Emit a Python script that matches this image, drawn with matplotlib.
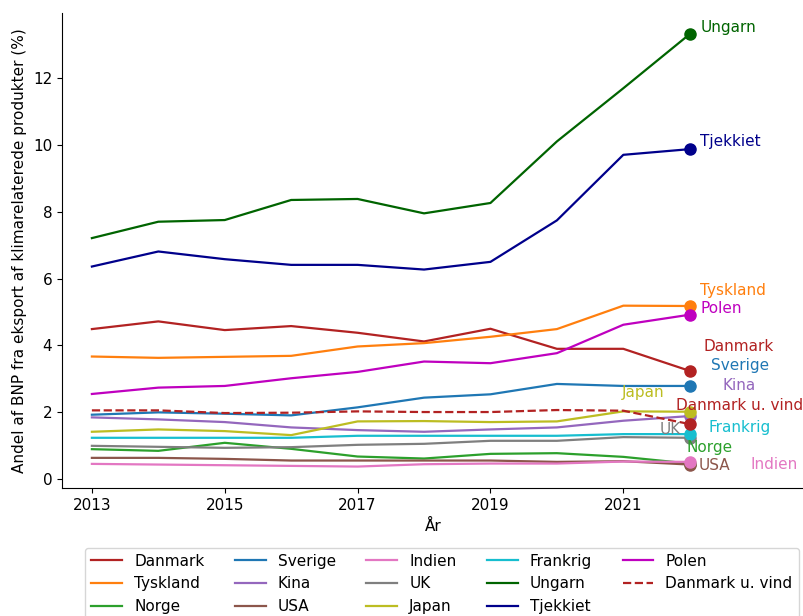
import matplotlib
matplotlib.use("Agg")
import matplotlib.pyplot as plt

plt.rcParams["font.size"] = 11

years = [2013, 2014, 2015, 2016, 2017, 2018, 2019, 2020, 2021, 2022]

# andel af BNP (%) pr. land
danmark = [4.49, 4.72, 4.46, 4.58, 4.38, 4.12, 4.50, 3.90, 3.90, 3.24]
tyskland = [3.67, 3.63, 3.66, 3.69, 3.97, 4.07, 4.26, 4.49, 5.19, 5.18]
norge = [0.90, 0.85, 1.09, 0.91, 0.68, 0.62, 0.76, 0.78, 0.67, 0.47]
sverige = [1.93, 2.00, 1.96, 1.91, 2.15, 2.44, 2.54, 2.85, 2.79, 2.79]
kina = [1.85, 1.79, 1.71, 1.55, 1.47, 1.42, 1.49, 1.55, 1.75, 1.89]
usa = [0.64, 0.64, 0.61, 0.56, 0.56, 0.56, 0.56, 0.52, 0.54, 0.44]
indien = [0.46, 0.44, 0.42, 0.40, 0.38, 0.45, 0.47, 0.47, 0.53, 0.52]
uk = [1.00, 0.97, 0.94, 0.96, 1.03, 1.06, 1.15, 1.15, 1.26, 1.24]
japan = [1.42, 1.49, 1.44, 1.32, 1.73, 1.74, 1.71, 1.73, 2.03, 2.02]
frankrig = [1.24, 1.24, 1.24, 1.24, 1.30, 1.30, 1.30, 1.30, 1.35, 1.35]
ungarn = [7.21, 7.70, 7.75, 8.35, 8.38, 7.95, 8.26, 10.10, 11.69, 13.31]
tjekkiet = [6.36, 6.81, 6.58, 6.41, 6.41, 6.27, 6.50, 7.74, 9.70, 9.87]
polen = [2.55, 2.74, 2.79, 3.02, 3.21, 3.52, 3.47, 3.77, 4.62, 4.92]
danmark_u_vind = [2.06, 2.06, 1.98, 1.99, 2.03, 2.01, 2.01, 2.07, 2.05, 1.65]

series = [
    ("Danmark", danmark, "firebrick", "-"),
    ("Tyskland", tyskland, "tab:orange", "-"),
    ("Norge", norge, "tab:green", "-"),
    ("Sverige", sverige, "tab:blue", "-"),
    ("Kina", kina, "tab:purple", "-"),
    ("USA", usa, "tab:brown", "-"),
    ("Indien", indien, "tab:pink", "-"),
    ("UK", uk, "tab:gray", "-"),
    ("Japan", japan, "tab:olive", "-"),
    ("Frankrig", frankrig, "tab:cyan", "-"),
    ("Ungarn", ungarn, "darkgreen", "-"),
    ("Tjekkiet", tjekkiet, "darkblue", "-"),
    ("Polen", polen, "m", "-"),
    ("Danmark u. vind", danmark_u_vind, "firebrick", "--"),
]

# navnenes placering ved linjernes ende (år, værdi)
label_pos = {
    "Ungarn": (2022.16, 13.52),
    "Tjekkiet": (2022.16, 10.09),
    "Tyskland": (2022.16, 5.64),
    "Polen": (2022.16, 5.10),
    "Danmark": (2022.20, 3.96),
    "Sverige": (2022.32, 3.41),
    "Kina": (2022.50, 2.81),
    "Japan": (2020.98, 2.58),
    "Danmark u. vind": (2021.79, 2.21),
    "UK": (2021.55, 1.50),
    "Frankrig": (2022.28, 1.56),
    "Norge": (2021.95, 0.95),
    "USA": (2022.14, 0.40),
    "Indien": (2022.92, 0.43),
}

fig = plt.figure(figsize=(8.04, 6.16), dpi=100)
ax = fig.add_axes([62 / 804, 0.2073, 1 - 62 / 804, 0.7716])

for name, values, color, style in series:
    ax.plot(years, values, style, color=color, linewidth=1.6, label=name)
    ax.plot(years[-1], values[-1], "o", color=color, markersize=8)
    tx, ty = label_pos[name]
    ax.text(tx, ty, name, color=color, ha="left", va="center", fontsize=11)

ax.set_xlim(2012.55, 2023.72)
ax.set_ylim(-0.27, 13.94)
ax.set_xticks([2013, 2015, 2017, 2019, 2021])
ax.set_yticks([0, 2, 4, 6, 8, 10, 12])
ax.spines["top"].set_visible(False)
ax.spines["right"].set_visible(False)
ax.set_xlabel("År")
ax.set_ylabel("Andel af BNP fra eksport af klimarelaterede produkter (%)")

handles, labels = ax.get_legend_handles_labels()
fig.legend(handles, labels, loc="upper center", bbox_to_anchor=(442 / 804, 0.1234),
           ncol=5, fontsize=11)

fig.savefig("out.png", dpi=100)
